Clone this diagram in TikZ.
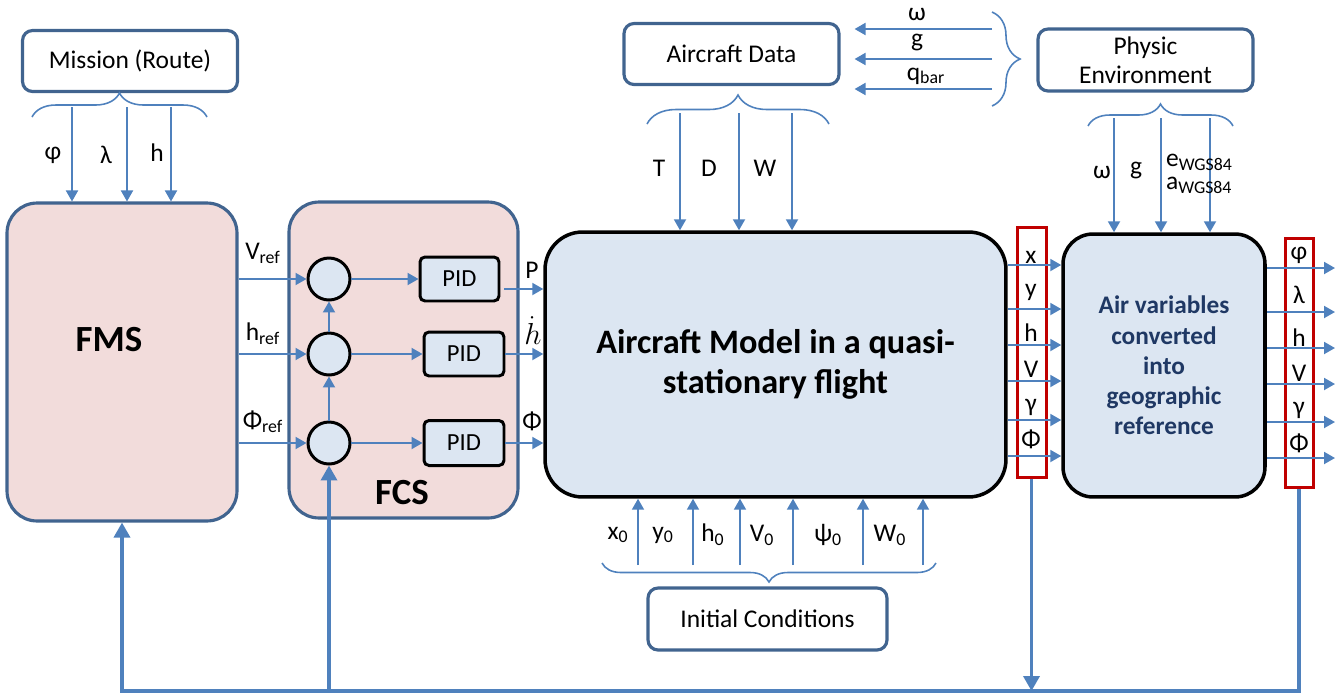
\documentclass[tikz,border=0pt]{standalone}
\usepackage{fontspec}
\setmainfont{Carlito}
\usepackage{tikz}
\usetikzlibrary{arrows.meta,positioning,calc,decorations.pathreplacing}

\definecolor{flowblue}{HTML}{4F81BD}
\definecolor{frameblue}{HTML}{41648F}
\definecolor{fmspink}{HTML}{F2DCDB}
\definecolor{plantblue}{HTML}{DCE6F2}
\definecolor{navytext}{HTML}{1F3864}
\definecolor{varred}{HTML}{C00000}

\begin{document}
\begin{tikzpicture}[x=0.02cm, y=-0.02cm,
    txt/.style={font=\fontsize{14.5}{16}\selectfont, inner sep=1pt},
    infobox/.style={rectangle, rounded corners=0.2cm, draw=frameblue, line width=1.8pt, fill=white, minimum width=4.3cm, minimum height=1.22cm, align=center, font=\fontsize{14.5}{16.5}\selectfont, inner sep=1pt},
    ctrlunit/.style={rectangle, rounded corners=0.6cm, draw=frameblue, line width=1.8pt, fill=fmspink},
    plant/.style={rectangle, rounded corners=0.75cm, draw=black, line width=2pt, fill=plantblue, align=center},
    sumnode/.style={circle, draw=black, line width=1.7pt, fill=plantblue, minimum size=0.84cm, inner sep=0pt},
    pid/.style={rectangle, rounded corners=0.1cm, draw=black, line width=1.7pt, fill=plantblue, minimum width=1.6cm, minimum height=0.88cm, font=\fontsize{14}{15}\selectfont},
    varbox/.style={rectangle, draw=varred, line width=1.7pt, minimum width=0.56cm, minimum height=5cm, inner sep=0pt},
    arrow/.style={draw=flowblue, line width=1.1pt, -{Triangle[length=0.22cm, width=0.24cm]}},
    feedback/.style={draw=flowblue, line width=2pt},
    fbtip/.style={-{Triangle[length=0.3cm, width=0.32cm]}},
    curly/.style={draw=flowblue, line width=0.9pt, decorate, decoration={brace, amplitude=#1}}
]
\useasboundingbox (0,0) rectangle (1342,694);

% Input blocks
\node[infobox] (mission) at (130,61) {Mission (Route)};
\node[infobox] (acdata) at (731.5,54) {Aircraft Data};
\node[infobox, minimum height=1.24cm] (physic) at (1145.5,60) {Physic\\Environment};
\node[infobox, minimum width=4.78cm, minimum height=1.24cm] (initcond) at (767.5,619) {Initial Conditions};

% Main blocks
\node[ctrlunit, minimum width=4.6cm, minimum height=6.36cm] (fms) at (122,362) {};
\node[font=\fontsize{21}{24}\selectfont\bfseries] (fmsname) at (109,340) {FMS};
\node[ctrlunit, minimum width=4.58cm, minimum height=6.32cm] (fcs) at (403.5,360) {};
\node[font=\fontsize{21}{24}\selectfont\bfseries] (fcsname) at (402,493) {FCS};
\node[plant, minimum width=9.22cm, minimum height=5.3cm, font=\fontsize{19.5}{23}\selectfont\bfseries] (acmodel) at (775.5,364.5) {Aircraft Model in a quasi-\\stationary flight};
\node[plant, rounded corners=0.6cm, minimum width=4.04cm, minimum height=5.26cm, text=navytext, font=\fontsize{14.4}{17.2}\selectfont\bfseries] (airvar) at (1164,365.5) {Air variables\\converted\\into\\geographic\\reference};
\node[varbox, minimum width=0.58cm, minimum height=5.02cm] (vars1) at (1031.5,352.5) {};
\node[varbox] (vars2) at (1299,363) {};

% Controllers
\node[sumnode] (s1) at (329,279) {};
\node[sumnode] (s2) at (329,354) {};
\node[sumnode] (s3) at (329,443) {};
\node[pid, minimum width=1.58cm] (pid1) at (459.5,279) {PID};
\node[pid] (pid2) at (464,354) {PID};
\node[pid, minimum height=0.9cm] (pid3) at (464,443) {PID};

% Braces
\draw[curly=0.48cm] (32,117) -- (207,117);
\draw[curly=0.58cm] (647,124) -- (829,124);
\draw[curly=0.56cm] (992,12) -- (992,106);
\draw[curly=0.44cm] (1088,126) -- (1233,126);
\draw[curly=0.38cm] (936,563) -- (602,563);

% Mission inputs
\foreach \xa in {72,127,171}
  \draw[arrow] (\xa,107) coordinate (m) -- (m |- fms.north);
\node[txt] (phiin) at (53,155) {φ};
\node[txt] (lamin) at (106,155) {λ};
\node[txt] (hin) at (157,153) {h};

% References to FCS
\draw[arrow] (fms.east |- s1) -- (s1);
\draw[arrow] (fms.east |- s2) -- (s2);
\draw[arrow] (fms.east |- s3) -- (s3);
\node[txt] (vref) at (263,253) {V\textsubscript{ref}};
\node[txt] (href) at (263,334) {h\textsubscript{ref}};
\node[txt] (phiref) at (263,422) {Φ\textsubscript{ref}};

\draw[arrow] (s1) -- (pid1);
\draw[arrow] (s2) -- (pid2);
\draw[arrow] (s3) -- (pid3);
\draw[arrow] (s3) -- (s2);
\draw[arrow] (s2) -- (s1);

% Commands to the aircraft model
\draw[arrow] (pid1.east) ++(4,10) coordinate (p1) -- (p1 -| acmodel.west);
\draw[arrow] (pid2) -- (pid2 -| acmodel.west);
\draw[arrow] (pid3) -- (pid3 -| acmodel.west);
\node[txt] (pcmd) at (532,270) {P};
\node[txt, font=\fontsize{16}{16}\selectfont] (hdot) at (533,331) {$\dot{h}$};
\node[txt] (phicmd) at (532,421) {Φ};

% Aircraft data
\foreach \xa in {680,739,792}
  \draw[arrow] (\xa,113) coordinate (t) -- (t |- acmodel.north);
\node[txt] (thrust) at (659,168) {T};
\node[txt] (drag) at (709,168) {D};
\node[txt] (weight) at (765,168) {W};

% Physic environment
\foreach \ya in {29,59,89}
  \draw[arrow, shorten >=0.28cm] (992,\ya) coordinate (e) -- (e -| acdata.east);
\node[txt] (omegaac) at (917,15) {ω};
\node[txt] (gac) at (917,43) {g};
\node[txt] (qbar) at (926,76) {q\textsubscript{bar}};

\foreach \xa in {1114,1161,1210}
  \draw[arrow] (\xa,118) coordinate (g) -- (g |- airvar.north);
\node[txt] (omegageo) at (1102,173) {ω};
\node[txt] (ggeo) at (1136,170) {g};
\node[txt, anchor=west, align=left, font=\fontsize{14.5}{13}\selectfont] (wgs) at (1164,174) {e\textsubscript{WGS84}\\a\textsubscript{WGS84}};

% Air variables
\foreach \ya in {265,309,345,381,420,456}
  {\path (0,\ya) coordinate (r);
   \draw[arrow] (acmodel.east |- r) -- (airvar.west |- r);}
\foreach \lab/\ya [count=\i] in {x/257, y/292, h/333, V/369, γ/407, Φ/439}
  \node[txt] (air\i) at (1031,\ya) {\lab};

% Geographic variables
\foreach \ya in {268,312,348,384,422,458}
  {\path (1335,\ya) coordinate (o);
   \draw[arrow] (airvar.east |- o) -- (o);}
\foreach \lab/\ya [count=\i] in {φ/255, λ/295, h/338, V/373, γ/410, Φ/443}
  \node[txt] (geo\i) at (1299,\ya) {\lab};

% Initial conditions
\foreach \xa in {638,693,740,793,863,923}
  {\path (\xa,565) coordinate (ic);
   \draw[arrow] (ic) -- (ic |- acmodel.south);}
\node[txt] (xzero) at (618,535) {x\textsubscript{0}};
\node[txt] (yzero) at (663,535) {y\textsubscript{0}};
\node[txt] (hzero) at (713,535) {h\textsubscript{0}};
\node[txt] (vzero) at (762,535) {V\textsubscript{0}};
\node[txt] (psizero) at (828,535) {ψ\textsubscript{0}};
\node[txt] (wzero) at (890,535) {W\textsubscript{0}};

% Feedback loop
\coordinate (fbline) at (0,691);
\draw[feedback, fbtip] (vars2.south) |- (fbline -| fms.south) -- (fms.south);
\draw[feedback, fbtip] (fbline -| s3) -- (s3);
\draw[feedback, fbtip] (vars1.south) -- (vars1.south |- fbline);

\end{tikzpicture}
\end{document}
